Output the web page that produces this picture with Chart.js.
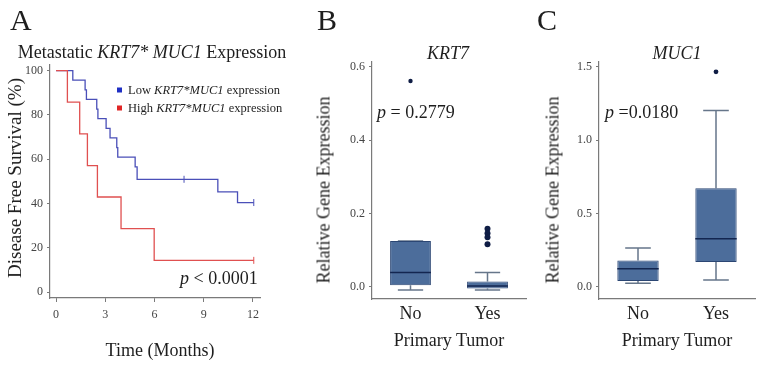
<!doctype html>
<html>
<head>
<title>KRT7 / MUC1 expression</title>
<style>
body { margin: 0; background: #fff; }
.page { position: relative; width: 761px; height: 367px; overflow: hidden; font-family: "Liberation Serif", serif; color: #1e1e1e; }
.page canvas { position: absolute; top: 0; }
.t { position: absolute; white-space: nowrap; transform: translate(-50%, -50%); }
.l { position: absolute; white-space: nowrap; transform: translate(0, -50%); }
.r { transform: translate(-50%, -50%) rotate(-90deg); }
.big { font-size: 30px; }
.mid { font-size: 18px; }
.leg { font-size: 12.5px; }
.sq { display: inline-block; width: 5px; height: 5px; margin-right: 6px; vertical-align: 1px; }
</style>
</head>
<body>
<div class="page">
  <canvas id="chartA" width="290" height="367" style="left:0"></canvas>
  <canvas id="chartB" width="240" height="367" style="left:290px"></canvas>
  <canvas id="chartC" width="231" height="367" style="left:530px"></canvas>

  <div class="l big" style="left:10px;top:20px">A</div>
  <div class="t mid" style="left:152px;top:52px">Metastatic <i>KRT7* MUC1</i> Expression</div>
  <div class="l leg" style="left:117px;top:90px"><span class="sq" style="background:#1f2fc4"></span>Low <i>KRT7*MUC1</i> expression</div>
  <div class="l leg" style="left:117px;top:108px"><span class="sq" style="background:#e02525"></span>High <i>KRT7*MUC1</i> expression</div>
  <div class="l mid" style="left:180px;top:278px"><i>p</i> &lt; 0.0001</div>
  <div class="t r" style="left:15px;top:178px;font-size:19px">Disease Free Survival (%)</div>
  <div class="t mid" style="left:160px;top:350px">Time (Months)</div>

  <div class="l big" style="left:317px;top:20px">B</div>
  <div class="t mid" style="left:448px;top:53px"><i>KRT7</i></div>
  <div class="l mid" style="left:377px;top:112px"><i>p</i> = 0.2779</div>
  <div class="t mid r" style="left:324px;top:190px">Relative Gene Expression</div>
  <div class="t mid" style="left:449px;top:340px">Primary Tumor</div>

  <div class="l big" style="left:537px;top:20px">C</div>
  <div class="t mid" style="left:677px;top:53px"><i>MUC1</i></div>
  <div class="l mid" style="left:605px;top:112px"><i>p</i> =0.0180</div>
  <div class="t mid r" style="left:553px;top:190px">Relative Gene Expression</div>
  <div class="t mid" style="left:677px;top:340px">Primary Tumor</div>
</div>

<script src="https://cdn.jsdelivr.net/npm/chart.js@4.4.1/dist/chart.umd.min.js"></script>
<script>
// ---- panel A: Kaplan-Meier (months, % disease free) ----
var lowTimes  = [0, 1.02, 1.77, 1.85, 2.48, 2.55, 3.05, 3.29, 3.70, 3.76, 4.82, 4.94, 9.86, 11.06, 12.05];
var lowSurv   = [100, 95.7, 91.3, 87.0, 82.6, 78.3, 73.9, 69.6, 65.2, 60.9, 56.5, 50.9, 45.2, 40.4, 40.4];
var highTimes = [0, 0.69, 1.44, 1.91, 2.52, 3.96, 5.98, 12.05];
var highSurv  = [100, 85.7, 71.4, 57.1, 42.9, 28.6, 14.3, 14.3];
var lowCensorT  = [7.8, 12.05];
var lowCensorS  = [50.9, 40.4];
var highCensorT = [12.05];
var highCensorS = [14.3];
var timeTicks = [0, 3, 6, 9, 12];
var survTicks = [0, 20, 40, 60, 80, 100];

// ---- panels B and C: box plots by primary tumor ----
var groups = ['No', 'Yes'];
var krtMin = [-0.009, -0.009];
var krtQ1  = [0.004, -0.005];
var krtMed = [0.039, 0.002];
var krtQ3  = [0.125, 0.014];
var krtMax = [0.125, 0.039];
var krtOutGroup = ['No', 'Yes', 'Yes', 'Yes', 'Yes'];
var krtOutVal   = [0.561, 0.158, 0.146, 0.135, 0.116];
var krtTicks = [0, 0.2, 0.4, 0.6];

var mucMin = [0.023, 0.046];
var mucQ1  = [0.039, 0.168];
var mucMed = [0.122, 0.327];
var mucQ3  = [0.179, 0.672];
var mucMax = [0.265, 1.203];
var mucOutGroup = ['Yes'];
var mucOutVal   = [1.467];
var mucTicks = [0, 0.5, 1.0, 1.5];

var serif = '"Liberation Serif", serif';
var axisGrey = '#7a7a7a';

function pairs(a, b) {
  return a.map(function(v, i) { return {x: v, y: b[i]}; });
}

function fixedTicks(list) {
  return function(scale) {
    scale.ticks = list.map(function(v) { return {value: v}; });
  };
}

// whiskers behind the boxes, medians on top
var boxPlugin = {
  id: 'boxWhiskers',
  beforeDatasetsDraw: function(chart, args, o) {
    if (!o || !o.min) return;
    var x = chart.scales.x, y = chart.scales.y, ctx = chart.ctx;
    var meta = chart.getDatasetMeta(0);
    ctx.save();
    ctx.strokeStyle = '#66768a';
    ctx.lineWidth = 1.5;
    o.min.forEach(function(m, i) {
      var cx = x.getPixelForValue(i);
      var half = meta.data[i].width * 0.31;
      ctx.beginPath();
      ctx.moveTo(cx, y.getPixelForValue(o.max[i]));
      ctx.lineTo(cx, y.getPixelForValue(o.q3[i]));
      ctx.moveTo(cx, y.getPixelForValue(o.q1[i]));
      ctx.lineTo(cx, y.getPixelForValue(m));
      ctx.moveTo(cx - half, y.getPixelForValue(o.max[i]));
      ctx.lineTo(cx + half, y.getPixelForValue(o.max[i]));
      ctx.moveTo(cx - half, y.getPixelForValue(m));
      ctx.lineTo(cx + half, y.getPixelForValue(m));
      ctx.stroke();
    });
    ctx.restore();
  },
  afterDatasetsDraw: function(chart, args, o) {
    if (!o || !o.med) return;
    var x = chart.scales.x, y = chart.scales.y, ctx = chart.ctx;
    var meta = chart.getDatasetMeta(0);
    ctx.save();
    ctx.strokeStyle = '#132650';
    ctx.lineWidth = 1.5;
    o.med.forEach(function(v, i) {
      var cx = x.getPixelForValue(i);
      var half = meta.data[i].width / 2;
      ctx.beginPath();
      ctx.moveTo(cx - half, y.getPixelForValue(v));
      ctx.lineTo(cx + half, y.getPixelForValue(v));
      ctx.stroke();
    });
    ctx.restore();
  }
};

function yAxis(min, max, list, width, fmt) {
  return {
    type: 'linear', min: min, max: max,
    afterBuildTicks: fixedTicks(list),
    afterFit: function(s) { s.width = width; },
    grid: { drawOnChartArea: false, color: axisGrey, tickLength: 3 },
    border: { color: axisGrey, width: 1.2 },
    ticks: { color: '#444', padding: 4, font: { family: serif, size: 12 }, callback: fmt }
  };
}

// panel A
new Chart(document.getElementById('chartA'), {
  type: 'line',
  data: {
    datasets: [
      { data: pairs(highTimes, highSurv), borderColor: '#e05050', borderWidth: 1.3, stepped: true, pointRadius: 0 },
      { data: pairs(lowTimes, lowSurv), borderColor: '#4a4fb8', borderWidth: 1.3, stepped: true, pointRadius: 0 },
      { data: pairs(highCensorT, highCensorS), showLine: false, pointStyle: 'line', rotation: 90, pointRadius: 3.5, borderColor: '#e05050', borderWidth: 1 },
      { data: pairs(lowCensorT, lowCensorS), showLine: false, pointStyle: 'line', rotation: 90, pointRadius: 3.5, borderColor: '#4a4fb8', borderWidth: 1 }
    ]
  },
  options: {
    responsive: false, animation: false,
    layout: { padding: { top: 65, right: 30, left: 0, bottom: 0 } },
    plugins: { legend: { display: false }, tooltip: { enabled: false } },
    scales: {
      x: {
        type: 'linear', min: -0.37, max: 12.43,
        afterBuildTicks: fixedTicks(timeTicks),
        afterFit: function(s) { s.height = 69; },
        grid: { drawOnChartArea: false, color: axisGrey, tickLength: 4 },
        border: { color: axisGrey, width: 1.2 },
        ticks: { color: '#444', padding: 6, maxRotation: 0, font: { family: serif, size: 12 } }
      },
      y: yAxis(-2.7, 102.5, survTicks, 50)
    }
  }
});

function boxChart(id, leftW, rightPad, yMin, yMax, tickList, mn, q1, med, q3, mx, outG, outV, outR) {
  return new Chart(document.getElementById(id), {
    type: 'bar',
    data: {
      labels: groups,
      datasets: [
        { type: 'bar', data: q1.map(function(v, i) { return [v, q3[i]]; }),
          backgroundColor: '#4c6d9b', borderColor: '#2b4673', borderWidth: 1, borderSkipped: false,
          barPercentage: 0.53, categoryPercentage: 1 },
        { type: 'line', data: pairs(outG, outV), showLine: false,
          pointRadius: outR, pointBackgroundColor: '#0f1d45', pointBorderWidth: 0 }
      ]
    },
    options: {
      responsive: false, animation: false,
      layout: { padding: { top: 62, right: rightPad, left: 0, bottom: 0 } },
      plugins: {
        legend: { display: false }, tooltip: { enabled: false },
        boxWhiskers: { min: mn, q1: q1, med: med, q3: q3, max: mx }
      },
      scales: {
        x: {
          type: 'category',
          afterFit: function(s) { s.height = 68; },
          grid: { display: false },
          border: { color: axisGrey, width: 1.2 },
          ticks: { color: '#1e1e1e', padding: -4, font: { family: serif, size: 18 } }
        },
        y: yAxis(yMin, yMax, tickList, leftW, function(v) { return v.toFixed(1); })
      }
    },
    plugins: [boxPlugin]
  });
}

boxChart('chartB', 82, 3, -0.0335, 0.6128, krtTicks, krtMin, krtQ1, krtMed, krtQ3, krtMax,
  krtOutGroup, krtOutVal, [2.2, 3, 3, 3, 3]);
boxChart('chartC', 69, 6, -0.084, 1.534, mucTicks, mucMin, mucQ1, mucMed, mucQ3, mucMax,
  mucOutGroup, mucOutVal, [2.4]);
</script>
</body>
</html>
